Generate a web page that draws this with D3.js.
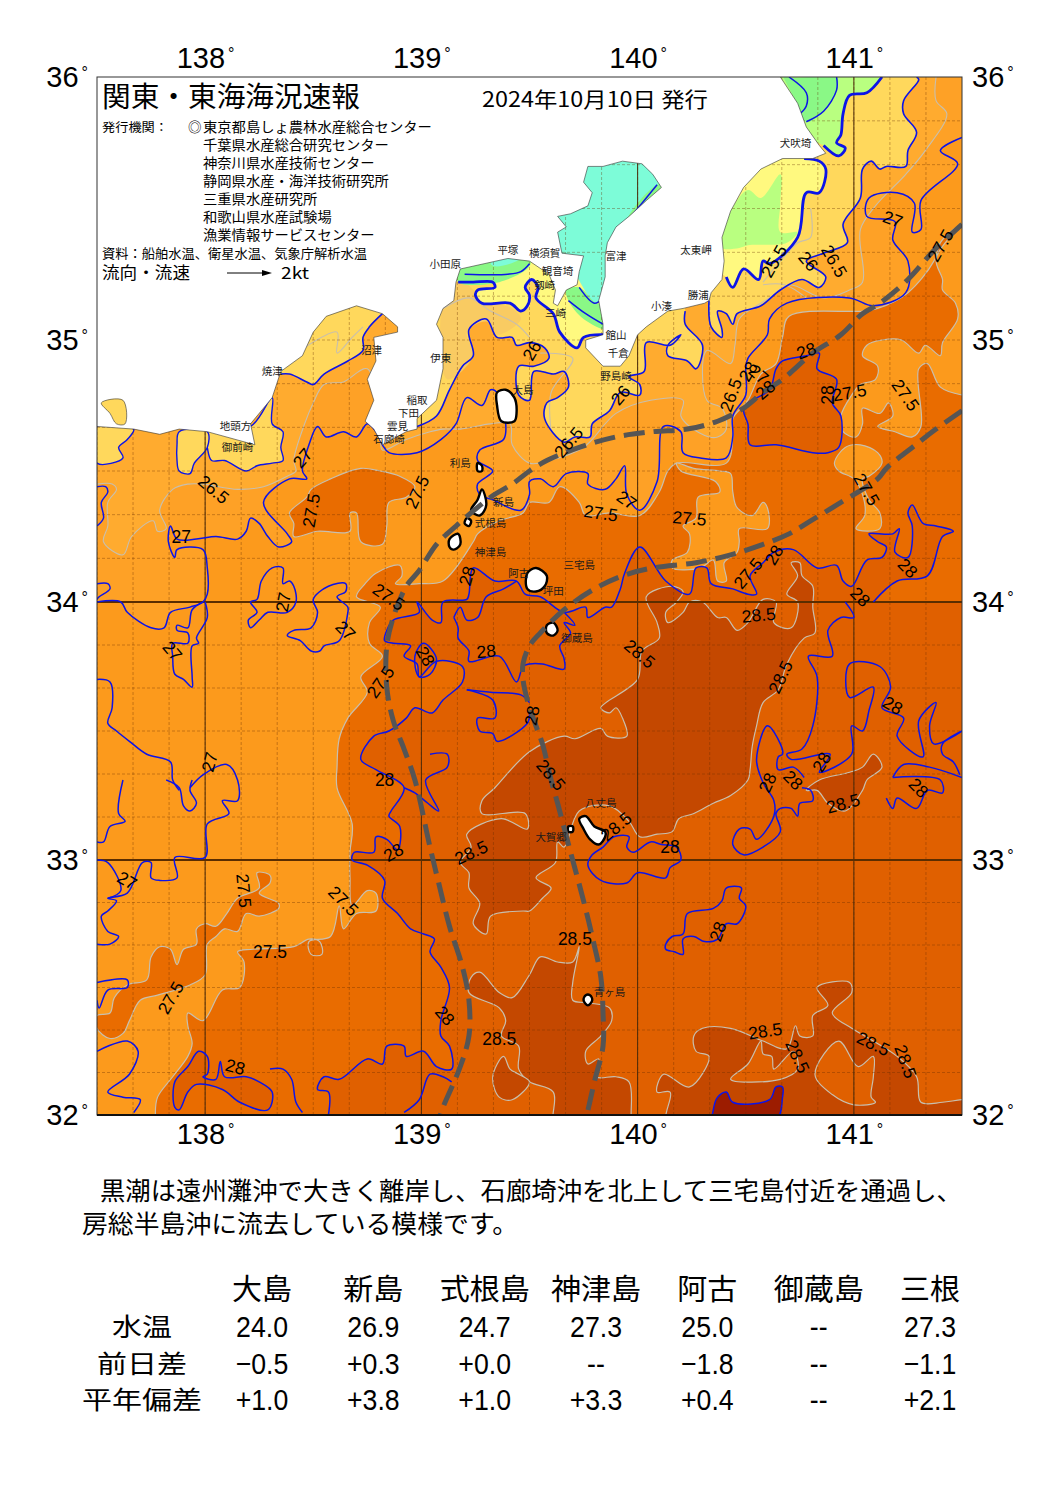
<!DOCTYPE html>
<html>
<head>
<meta charset="utf-8">
<script src="https://cdn.jsdelivr.net/npm/d3@7"></script>
<style>
  html, body { margin: 0; background: #fff; }
  text { font-family: "Noto Sans CJK JP", sans-serif; fill: #000; }
  .num, .num text { font-family: "Liberation Sans", Arial, sans-serif; }
</style>
</head>
<body>
<svg id="chart" width="1064" height="1505"></svg>
<script>
// All map features are [longitude, latitude].

// ---- blue integer isotherms and the filled bands that hang off them
var contour27North = [[137.50,34.00],[137.61,34.00],[137.64,33.96],[137.75,33.90],[137.81,33.90],[137.84,33.96],[137.93,33.98],[137.99,34.00],[138.01,34.03],[138.01,34.13],[137.99,34.20],[137.87,34.20],[137.86,34.17],[137.83,34.23],[137.84,34.29],[137.87,34.24],[137.96,34.24],[138.05,34.25],[138.15,34.24],[138.19,34.27],[138.21,34.32],[138.25,34.30],[138.29,34.25],[138.34,34.21],[138.40,34.23],[138.38,34.26],[138.27,34.38],[138.39,34.47],[138.47,34.47],[138.45,34.50],[138.48,34.60],[138.52,34.67],[138.56,34.63],[138.64,34.65],[138.70,34.63],[138.75,34.68],[138.79,34.65],[138.82,34.60],[138.85,34.57],[138.98,34.57],[139.09,34.62],[139.16,34.68],[139.21,34.78],[139.28,34.75],[139.32,34.81],[139.35,34.80],[139.39,34.68],[139.38,34.62],[139.27,34.58],[139.26,34.54],[139.33,34.50],[139.26,34.45],[139.27,34.41],[139.33,34.39],[139.46,34.35],[139.50,34.41],[139.50,34.46],[139.55,34.47],[139.61,34.44],[139.67,34.49],[139.77,34.49],[139.77,34.45],[139.85,34.43],[139.90,34.47],[139.94,34.52],[139.95,34.41],[140.01,34.35],[140.09,34.46],[140.12,34.67],[140.20,34.65],[140.21,34.57],[140.29,34.55],[140.41,34.55],[140.44,34.63],[140.44,34.71],[140.50,34.79],[140.50,34.89],[140.51,34.93],[140.60,35.02],[140.61,35.08],[140.69,35.14],[140.98,35.16],[141.09,35.13],[141.24,35.18],[141.25,35.30],[141.18,35.38],[141.19,35.45],[141.06,35.47],[141.07,35.54],[141.20,35.56],[141.28,35.52],[141.27,35.41],[141.31,35.42],[141.31,35.53],[141.48,35.67],[141.40,35.72],[141.50,35.77]];
var contour265 = [[137.50,34.45],[137.57,34.45],[137.59,34.43],[137.55,34.38],[137.55,34.29],[137.53,34.23],[137.62,34.18],[137.66,34.25],[137.76,34.31],[137.78,34.27],[137.82,34.28],[137.79,34.35],[137.85,34.43],[137.92,34.45],[137.99,34.45],[138.15,34.43],[138.27,34.44],[138.38,34.48],[138.42,34.50],[138.41,34.54],[138.46,34.68],[138.50,34.76],[138.55,34.83],[138.64,34.84],[138.75,34.89],[138.81,34.62],[138.82,34.58],[138.93,34.62],[139.04,34.65],[139.10,34.66],[139.18,34.66],[139.32,34.68],[139.41,34.68],[139.42,34.60],[139.50,34.53],[139.59,34.54],[139.75,34.59],[139.90,34.72],[140.06,34.77],[140.21,34.77],[140.20,34.71],[140.24,34.67],[140.33,34.63],[140.37,34.63],[140.41,34.66],[140.39,34.74],[140.32,34.77],[140.32,34.96],[140.43,34.91],[140.45,34.98],[140.47,35.08],[140.55,35.13],[140.61,35.16],[140.70,35.21],[140.86,35.16],[140.98,35.19],[141.04,35.22],[141.03,35.42],[141.10,35.51],[141.24,35.63],[141.33,35.72],[141.43,35.86],[141.38,35.91],[141.38,36.00]];
var contour26Sagami = [[138.98,34.67],[139.07,34.71],[139.13,34.81],[139.19,34.90],[139.24,34.94],[139.22,35.04],[139.30,35.08],[139.35,35.01],[139.42,35.01],[139.44,34.98],[139.50,34.99],[139.57,34.97],[139.59,34.93],[139.52,34.90],[139.45,34.90],[139.45,34.79],[139.50,34.77],[139.52,34.88],[139.61,34.87],[139.66,34.88],[139.68,34.82],[139.63,34.78],[139.58,34.76],[139.57,34.70],[139.66,34.61],[139.71,34.63],[139.78,34.63],[139.79,34.68],[139.87,34.73],[139.92,34.80],[140.01,34.79],[140.01,34.83],[139.96,34.86],[140.03,34.88],[140.04,34.99],[140.15,34.98],[140.20,35.02],[140.14,34.98],[140.14,34.94],[140.23,34.92],[140.27,34.89],[140.30,34.98],[140.22,35.06],[140.22,35.11]];
var contour26East = [[140.33,35.15],[140.34,35.05],[140.39,35.01],[140.39,35.04],[140.37,35.11],[140.41,35.10],[140.44,35.06],[140.46,35.10],[140.57,35.13],[140.66,35.19],[140.76,35.23],[140.84,35.20],[140.87,35.24],[140.78,35.30],[140.86,35.33],[140.97,35.37],[140.95,35.44],[141.03,35.54],[141.04,35.65],[141.08,35.68],[141.12,35.65],[141.15,35.66],[141.24,35.66],[141.25,35.72],[141.29,35.79],[141.23,35.86],[141.23,35.91],[141.30,35.99],[141.29,36.00]];
var contour26Suruga = [[138.82,35.10],[138.76,35.05],[138.73,35.01],[138.73,34.96],[138.66,34.92],[138.55,34.87],[138.50,34.83],[138.47,34.84],[138.39,34.87],[138.35,34.87]];
var contour25Kujukuri = [[140.41,35.24],[140.44,35.20],[140.49,35.27],[140.56,35.23],[140.58,35.30],[140.61,35.29],[140.74,35.39],[140.78,35.56],[140.84,35.56],[140.87,35.65],[140.84,35.68],[140.77,35.69]];
var contour25Kashima = [[141.13,36.00],[141.06,35.94],[140.98,35.93],[140.95,35.86],[140.94,35.78],[140.92,35.75],[140.96,35.73],[140.93,35.70],[140.86,35.74]];
var contour25Sagami = [[139.17,35.22],[139.24,35.22],[139.33,35.22],[139.34,35.20],[139.26,35.19],[139.25,35.17],[139.28,35.14],[139.41,35.14],[139.46,35.11],[139.49,35.13],[139.50,35.17],[139.48,35.20],[139.51,35.23],[139.54,35.20],[139.53,35.16],[139.61,35.10],[139.64,35.03],[139.72,34.97],[139.75,35.01],[139.85,35.02]];
var contour275Main = [[137.77,32.00],[137.78,32.07],[137.85,32.15],[137.92,32.23],[137.94,32.28],[137.92,32.35],[137.92,32.40],[137.99,32.37],[138.08,32.49],[138.16,32.50],[138.18,32.60],[138.15,32.64],[138.22,32.65],[138.41,32.66],[138.48,32.69],[138.53,32.68],[138.54,32.63],[138.49,32.63],[138.48,32.68],[138.58,32.70],[138.62,32.82],[138.64,32.73],[138.70,32.79],[138.79,32.80],[138.79,32.87],[138.75,32.88],[138.68,32.82],[138.67,32.93],[138.67,33.03],[138.68,33.14],[138.61,33.28],[138.61,33.36],[138.62,33.47],[138.66,33.55],[138.75,33.65],[138.72,33.71],[138.82,33.79],[138.76,33.84],[138.76,33.92],[138.81,33.98],[138.70,34.02],[138.74,34.07],[138.79,34.11],[138.90,34.14],[138.91,34.10],[138.88,34.07],[138.99,34.07],[139.10,34.08],[139.24,34.23],[139.26,34.26],[139.36,34.31],[139.47,34.34],[139.50,34.38],[139.59,34.38],[139.64,34.44],[139.73,34.38],[139.76,34.33],[139.87,34.34],[140.01,34.33],[140.10,34.42],[140.14,34.50],[140.18,34.53],[140.41,34.53],[140.44,34.63],[140.44,34.70],[140.51,34.77],[140.57,34.87],[140.64,34.91],[140.67,35.01],[140.70,35.09],[141.04,35.11],[141.11,35.12],[141.25,35.18],[141.37,35.30],[141.40,35.37],[141.46,35.42],[141.50,35.44]];
var contour275Finger = [[137.50,32.39],[137.56,32.40],[137.58,32.46],[137.64,32.51],[137.73,32.53],[137.75,32.62],[137.79,32.66],[137.84,32.65],[137.87,32.59],[137.90,32.65],[137.96,32.67],[137.96,32.73],[138.00,32.75],[138.05,32.74],[138.10,32.79],[138.15,32.85],[138.25,32.89],[138.24,32.95],[138.30,32.94],[138.30,32.91],[138.25,32.87],[138.34,32.83],[138.34,32.81],[138.25,32.78],[138.19,32.79],[138.15,32.72],[138.09,32.73],[138.05,32.70],[138.01,32.67],[138.00,32.55],[137.93,32.51],[137.78,32.47],[137.70,32.45],[137.65,32.37],[137.62,32.32],[137.56,32.30],[137.50,32.34]];
var contour275West = [[138.39,34.34],[138.47,34.40],[138.49,34.43],[138.58,34.47],[138.72,34.51],[138.81,34.50],[138.90,34.48],[138.97,34.44],[138.93,34.40],[138.85,34.38],[138.84,34.29],[138.82,34.22],[138.72,34.23],[138.70,34.34],[138.67,34.34],[138.67,34.27],[138.52,34.27],[138.41,34.25],[138.41,34.30]];
var pocket275Center = [[140.18,34.53],[140.26,34.51],[140.38,34.50],[140.43,34.49],[140.44,34.42],[140.46,34.36],[140.53,34.33],[140.58,34.38],[140.60,34.36],[140.60,34.28],[140.47,34.28],[140.47,34.23],[140.46,34.19],[140.40,34.15],[140.41,34.08],[140.37,34.08],[140.35,34.16],[140.29,34.13],[140.16,34.13],[140.16,34.16],[140.23,34.19],[140.24,34.26],[140.21,34.29],[140.27,34.32],[140.28,34.40],[140.38,34.42],[140.36,34.46],[140.20,34.50]];
var pocket275East = [[140.91,34.53],[140.96,34.59],[141.03,34.60],[141.11,34.57],[141.13,34.53],[141.07,34.48],[141.04,34.47],[141.07,34.39],[141.12,34.34],[141.12,34.28],[141.01,34.28],[141.05,34.33],[141.04,34.41],[141.00,34.47],[140.93,34.50]];
var pocket275NE = [[141.50,35.44],[141.38,35.31],[141.41,35.23],[141.41,35.19],[141.47,35.14],[141.48,35.08],[141.41,34.99],[141.40,34.94],[141.33,34.98],[141.30,34.95],[141.22,35.00],[141.13,35.00],[141.06,34.98],[141.04,34.94],[141.11,34.90],[141.10,34.85],[141.03,34.83],[140.99,34.79],[140.94,34.71],[140.95,34.65],[141.01,34.63],[141.04,34.68],[141.04,34.74],[141.12,34.72],[141.16,34.76],[141.18,34.71],[141.11,34.67],[141.19,34.65],[141.27,34.63],[141.31,34.67],[141.30,34.89],[141.34,34.91],[141.40,34.82],[141.50,34.79]];
var contour28Main = [[138.57,32.00],[138.57,32.09],[138.52,32.10],[138.55,32.15],[138.62,32.14],[138.75,32.22],[138.82,32.20],[138.84,32.27],[138.92,32.27],[138.93,32.23],[139.01,32.25],[139.07,32.19],[139.14,32.18],[139.13,32.27],[139.09,32.31],[139.09,32.37],[139.13,32.50],[139.09,32.58],[139.04,32.64],[139.06,32.69],[139.01,32.71],[138.95,32.73],[138.89,32.79],[138.82,32.85],[138.83,32.92],[138.75,32.98],[138.68,33.00],[138.69,33.03],[138.78,33.03],[138.79,33.09],[138.84,33.08],[138.89,33.04],[138.90,33.13],[138.85,33.17],[138.86,33.19],[138.92,33.28],[138.79,33.35],[138.72,33.39],[138.78,33.48],[138.85,33.50],[138.93,33.55],[138.97,33.59],[139.05,33.57],[139.10,33.62],[139.19,33.69],[139.19,33.75],[139.07,33.77],[138.99,33.71],[138.98,33.76],[138.92,33.79],[138.95,33.83],[138.87,33.84],[138.83,33.85],[138.84,33.89],[138.87,33.93],[138.99,33.96],[138.98,34.00],[139.05,33.93],[139.09,33.92],[139.10,34.00],[139.21,34.01],[139.22,34.03],[139.24,34.13],[139.34,34.08],[139.44,34.08],[139.48,34.03],[139.55,34.02],[139.66,33.96],[139.76,33.98],[139.77,33.94],[139.85,33.98],[139.88,33.98],[139.92,34.05],[139.94,34.11],[140.01,34.21],[140.13,34.08],[140.24,34.03],[140.27,34.13],[140.32,34.13],[140.34,34.07],[140.44,34.05],[140.51,34.03],[140.55,34.03],[140.52,34.10],[140.58,34.15],[140.63,34.19],[140.72,34.20],[140.83,34.13],[140.92,34.14],[140.95,34.08],[140.99,34.06],[141.06,34.16],[141.13,34.17],[141.15,34.21],[141.11,34.23],[141.07,34.26],[141.18,34.26],[141.21,34.28],[141.19,34.19],[141.25,34.17],[141.27,34.29],[141.25,34.34],[141.27,34.37],[141.32,34.30],[141.38,34.29],[141.46,34.27],[141.41,34.25],[141.34,34.10],[141.20,34.08],[141.09,34.00]];
var contour28North = [[140.51,34.76],[140.61,34.81],[140.64,34.89],[140.67,34.92],[140.78,34.94],[140.84,34.95],[140.83,34.89],[140.92,34.85],[140.90,34.76],[140.94,34.71],[140.93,34.59],[140.88,34.57],[140.81,34.57],[140.64,34.60],[140.52,34.60],[140.51,34.68],[140.49,34.73]];
var contour28SouthWest = [[137.86,32.13],[137.92,32.19],[137.97,32.25],[138.01,32.23],[138.01,32.16],[137.99,32.15],[138.05,32.14],[138.07,32.21],[138.09,32.15],[138.19,32.15],[138.25,32.13],[138.31,32.09],[138.29,32.02],[138.16,32.05],[138.08,32.10],[137.96,32.12],[137.92,32.09],[137.88,32.02],[137.86,32.03]];
var contour285Center = [[140.04,34.02],[140.16,34.06],[140.21,34.04],[140.18,34.00],[140.13,33.96],[140.14,33.92],[140.21,33.96],[140.24,34.00],[140.30,34.00],[140.37,33.94],[140.41,33.94],[140.46,33.89],[140.51,33.92],[140.58,34.01],[140.64,34.00],[140.63,33.92],[140.71,33.90],[140.74,34.00],[140.69,34.03],[140.74,34.10],[140.71,34.15],[140.75,34.15],[140.76,34.10],[140.81,34.06],[140.81,33.98],[140.82,33.88],[140.77,33.86],[140.69,33.76],[140.65,33.66],[140.58,33.61],[140.55,33.52],[140.53,33.44],[140.52,33.35],[140.51,33.31],[140.43,33.25],[140.35,33.22],[140.26,33.18],[140.19,33.16],[140.16,33.11],[140.09,33.10],[140.01,33.09],[139.96,33.15],[139.87,33.21],[139.73,33.19],[139.66,33.05],[139.63,33.07],[139.62,32.99],[139.53,32.93],[139.60,32.89],[139.56,32.85],[139.50,32.80],[139.47,32.80],[139.32,32.78],[139.30,32.71],[139.24,32.75],[139.27,32.83],[139.22,32.89],[139.22,32.95],[139.18,32.99],[139.23,33.05],[139.21,33.10],[139.37,33.16],[139.49,33.12],[139.48,33.18],[139.28,33.18],[139.28,33.23],[139.34,33.28],[139.50,33.42],[139.66,33.48],[139.71,33.47],[139.83,33.51],[139.86,33.48],[139.95,33.48],[139.93,33.55],[139.90,33.59],[139.87,33.57],[139.83,33.59],[140.00,33.70],[140.02,33.81],[140.10,33.86],[140.09,33.92]];
var contour285South = [[139.22,32.48],[139.23,32.54],[139.27,32.56],[139.36,32.48],[139.42,32.46],[139.50,32.55],[139.55,32.62],[139.63,32.60],[139.70,32.60],[139.73,32.66],[139.70,32.52],[139.70,32.45],[139.77,32.44],[139.87,32.42],[139.88,32.37],[139.83,32.31],[139.76,32.25],[139.77,32.20],[139.82,32.22],[139.81,32.15],[139.90,32.15],[139.96,32.13],[139.97,32.00],[139.97,31.95],[139.62,31.95],[139.61,32.09],[139.50,32.13],[139.45,32.18],[139.45,32.27],[139.37,32.31],[139.39,32.37],[139.36,32.42]];
var contour285Lobe = [[139.38,32.23],[139.33,32.15],[139.36,32.07],[139.42,32.06],[139.50,32.13],[139.45,32.16],[139.41,32.18]];
var contour285SouthEast = [[140.14,31.95],[140.15,32.09],[140.09,32.09],[140.12,32.16],[140.24,32.11],[140.33,32.23],[140.27,32.25],[140.26,32.31],[140.30,32.34],[140.43,32.34],[140.58,32.29],[140.69,32.26],[140.73,32.35],[140.75,32.31],[140.81,32.31],[140.81,32.39],[140.88,32.43],[140.83,32.50],[140.98,32.52],[140.99,32.48],[140.90,32.40],[140.99,32.34],[141.07,32.30],[141.20,32.23],[141.29,32.15],[141.31,32.05],[141.41,32.05],[141.50,32.06],[141.60,32.06],[141.60,31.95]];
var pocket285A = [[140.43,32.14],[140.51,32.20],[140.57,32.29],[140.58,32.24],[140.62,32.23],[140.63,32.18],[140.72,32.25],[140.74,32.18],[140.66,32.14]];
var pocket285B = [[140.82,32.16],[140.93,32.29],[141.02,32.19],[141.09,32.23],[141.09,32.15],[141.08,32.07],[141.10,32.05],[141.00,32.04],[140.90,32.08]];
var contour285Patch = [[140.78,33.27],[140.84,33.31],[140.98,33.34],[141.04,33.36],[141.09,33.41],[141.13,33.36],[141.06,33.31],[141.04,33.27],[140.96,33.19],[140.88,33.22],[140.83,33.27]];
var contour29 = [[140.35,32.02],[140.37,32.07],[140.41,32.09],[140.44,32.05],[140.61,32.06],[140.64,32.11],[140.67,32.11],[140.67,32.07],[140.64,31.98],[140.35,31.98]];

// ---- coastal shallow water bands
var goldOmaezaki = [[138.00,34.66],[138.21,34.67],[138.31,34.78],[138.31,34.68],[138.36,34.65],[138.35,34.59],[138.36,34.54],[138.31,34.53],[138.24,34.52],[138.19,34.50],[138.09,34.54],[138.03,34.54],[138.01,34.59]];
var goldWestA = [[137.50,34.67],[137.67,34.66],[137.64,34.62],[137.60,34.59],[137.62,34.55],[137.50,34.53]];
var goldWestB = [[137.88,34.65],[138.01,34.65],[138.01,34.59],[137.95,34.53],[137.93,34.49],[137.88,34.50],[137.87,34.54],[137.87,34.60]];
var goldHamana = [[137.52,34.76],[137.62,34.77],[137.63,34.68],[137.59,34.68],[137.56,34.72]];
var tanSagami = [[139.14,35.25],[139.30,35.15],[139.42,35.12],[139.46,35.08],[139.35,35.02],[139.30,35.07],[139.21,35.03],[139.24,34.94],[139.12,34.85],[139.09,35.10]];
var limeKujukuri = [[140.39,35.39],[140.43,35.49],[140.51,35.57],[140.57,35.54],[140.66,35.63],[140.66,35.52],[140.66,35.41],[140.74,35.41],[140.69,35.37],[140.51,35.36],[140.47,35.35],[140.39,35.35]];
var greenKashima = [[140.70,36.00],[140.92,36.00],[140.92,35.95],[140.86,35.87],[140.78,35.83],[140.73,35.91],[140.66,36.03]];
var greenSagami = [[139.17,35.26],[139.27,35.30],[139.50,35.31],[139.50,35.28],[139.36,35.22],[139.17,35.22]];
var aquaSagami = [[139.32,35.29],[139.35,35.31],[139.46,35.31],[139.41,35.29],[139.34,35.28]];
var aquaTokyoBay = [[139.60,35.50],[139.60,35.72],[140.15,35.72],[140.15,35.55],[139.90,35.35],[139.85,35.15],[139.79,35.14],[139.72,35.24],[139.68,35.30],[139.60,35.30]];
var greenUraga = [[139.67,35.19],[139.73,35.20],[139.81,35.14],[139.87,35.14],[139.87,35.04],[139.75,35.08],[139.68,35.15]];
var greenBayEast = [[139.95,35.45],[140.09,35.59],[140.14,35.59],[140.05,35.47],[139.98,35.41]];

// ---- blue lines without a fill of their own
var blueLines = [
  [[137.50,34.44],[137.54,34.44],[137.55,34.42],[137.52,34.38],[137.53,34.32],[137.50,34.29]],
  [[137.50,34.07],[137.55,34.07],[137.56,34.05],[137.51,34.02],[137.50,34.01]],
  [[137.50,33.70],[137.56,33.69],[137.57,33.59],[137.55,33.53],[137.59,33.50],[137.65,33.46],[137.73,33.41],[137.84,33.38],[137.85,33.31],[137.88,33.27]],
  [[137.93,33.28],[137.99,33.33],[138.10,33.37],[138.15,33.31],[138.15,33.23],[138.08,33.23],[138.11,33.18],[138.01,33.14],[138.00,33.01],[137.86,33.01],[137.87,32.93],[137.79,32.92],[137.75,32.93],[137.75,32.99],[137.71,32.99],[137.64,32.87],[137.55,32.85],[137.59,32.84],[137.55,32.80],[137.52,32.78],[137.55,32.72],[137.60,32.70],[137.56,32.67],[137.50,32.67]],
  [[137.82,33.31],[137.88,33.28],[137.90,33.21],[137.93,33.19],[137.96,33.22],[137.93,33.27],[137.94,33.31]],
  [[137.62,33.31],[137.60,33.18],[137.63,33.15],[137.56,33.13],[137.53,33.07],[137.50,33.07]],
  [[137.50,33.00],[137.55,32.99],[137.61,32.88],[137.55,32.85]],
  [[137.50,32.25],[137.64,32.29],[137.69,32.25],[137.65,32.16],[137.55,32.09],[137.62,32.07],[137.70,32.06],[137.67,32.01]],
  [[137.50,32.52],[137.64,32.53],[137.64,32.50],[137.55,32.49],[137.51,32.42],[137.50,32.45]],
  [[138.30,32.18],[138.36,32.18],[138.40,32.14],[138.42,32.05],[138.45,32.01]],
  [[138.92,32.01],[138.99,32.06],[139.04,32.16],[139.10,32.15],[139.14,32.13]],
  [[138.00,34.00],[138.01,33.94],[137.96,33.86],[137.97,33.84],[137.94,33.83],[137.94,33.71],[137.94,33.67],[137.90,33.70],[137.86,33.72],[137.85,33.79],[137.85,33.84],[137.92,33.84],[137.92,33.88],[137.87,33.89],[137.87,33.91],[137.92,33.90],[137.94,33.97],[137.99,34.00]],
  [[139.15,33.94],[139.17,33.90],[139.17,33.86],[139.22,33.81],[139.22,33.77],[139.36,33.79],[139.44,33.69],[139.47,33.75],[139.50,33.76],[139.56,33.76],[139.66,33.74],[139.66,33.78],[139.64,33.83],[139.69,33.88],[139.66,33.92],[139.71,33.91],[139.66,33.96]],
  [[139.15,33.94],[139.18,33.98],[139.21,33.93],[139.26,33.94],[139.30,34.02],[139.38,34.05],[139.44,34.08]],
  [[139.21,33.66],[139.33,33.62],[139.34,33.55],[139.26,33.55],[139.27,33.50],[139.33,33.49],[139.35,33.46],[139.49,33.53],[139.50,33.57]],
  [[139.21,33.66],[139.32,33.65],[139.46,33.64],[139.50,33.61]],
  [[139.04,33.41],[139.12,33.41],[139.12,33.36],[139.02,33.31],[139.08,33.19],[139.03,33.22],[138.97,33.26],[138.92,33.28]],
  [[140.60,33.27],[140.63,33.23],[140.63,33.17],[140.55,33.08],[140.52,33.12],[140.47,33.12],[140.44,33.06],[140.49,33.02],[140.58,33.05],[140.66,33.11],[140.64,33.18],[140.66,33.20],[140.71,33.20],[140.74,33.17],[140.75,33.22],[140.81,33.23],[140.80,33.27],[140.76,33.28]],
  [[140.60,33.27],[140.57,33.32],[140.55,33.39],[140.60,33.52],[140.66,33.45],[140.67,33.41],[140.65,33.40],[140.65,33.35],[140.72,33.36],[140.77,33.32]],
  [[140.96,34.00],[141.00,33.94],[140.94,33.94],[140.88,33.89],[140.90,33.79],[140.79,33.79],[140.83,33.71],[140.81,33.52],[140.76,33.43],[140.69,33.41],[140.71,33.39],[140.89,33.41],[140.84,33.34],[140.99,33.41],[140.99,33.52],[141.04,33.50],[141.07,33.58],[141.09,33.67],[140.98,33.63],[140.98,33.76],[141.12,33.75],[141.17,33.67],[141.13,33.59],[141.23,33.55],[141.20,33.48],[141.32,33.40],[141.30,33.54],[141.38,33.61],[141.35,33.52],[141.37,33.45],[141.50,33.50]],
  [[141.50,33.50],[141.41,33.45],[141.41,33.41],[141.46,33.38],[141.49,33.33]],
  [[141.18,33.32],[141.23,33.37],[141.35,33.36],[141.50,33.32]],
  [[141.15,33.24],[141.18,33.20],[141.20,33.24],[141.29,33.20],[141.34,33.27],[141.41,33.26],[141.40,33.31],[141.18,33.32]],
  [[139.20,35.25],[139.40,35.25],[139.46,35.26],[139.50,35.29]],
  [[139.68,35.15],[139.76,35.10],[139.84,35.06]],
  [[139.73,35.20],[139.80,35.14],[139.84,35.16]],
  [[139.95,35.45],[140.09,35.59]],
  [[140.70,36.00],[140.78,35.94],[140.78,35.89],[140.75,35.86]],
  [[140.92,36.00],[140.92,35.95],[140.86,35.87],[140.78,35.83]]
];
var blueLoops = [
  [[138.21,34.00],[138.24,34.01],[138.26,34.08],[138.31,34.13],[138.36,34.13],[138.36,34.07],[138.39,34.08],[138.41,34.06],[138.42,34.00],[138.38,33.96],[138.29,33.96],[138.25,33.93],[138.21,33.90],[138.20,33.93],[138.24,33.96]],
  [[138.50,34.01],[138.57,34.06],[138.65,34.07],[138.65,34.04],[138.61,34.02],[138.66,33.98],[138.66,33.96],[138.62,33.85],[138.55,33.83],[138.53,33.81],[138.49,33.81],[138.44,33.85],[138.38,33.87],[138.41,33.89],[138.49,33.90],[138.52,33.96]],
  [[139.01,33.84],[139.07,33.78],[139.04,33.72],[138.99,33.71],[138.97,33.79]],
  [[139.79,33.02],[139.77,32.98],[139.83,32.92],[139.95,32.91],[140.00,32.95],[140.13,32.93],[140.15,32.97],[140.20,33.00],[140.18,33.05],[140.11,33.06],[140.06,33.07],[139.98,33.03],[139.95,33.05],[139.96,33.09],[139.89,33.09],[139.84,33.05]],
  [[140.13,32.67],[140.16,32.70],[140.21,32.71],[140.23,32.79],[140.35,32.81],[140.39,32.84],[140.41,32.89],[140.48,32.89],[140.47,32.85],[140.50,32.82],[140.46,32.75],[140.41,32.75],[140.37,32.69],[140.31,32.68],[140.26,32.70],[140.21,32.69],[140.21,32.63],[140.17,32.64],[140.13,32.65]]
];

// ---- gray half-degree lines that do not bound a fill
var grayLines = [
  [[139.10,35.12],[139.22,35.16],[139.32,35.11],[139.44,35.06],[139.50,35.01]],
  [[138.35,34.91],[138.61,35.03],[138.61,34.95],[138.68,35.01],[138.73,35.05]],
  [[140.80,35.50],[140.80,35.39],[140.74,35.37],[140.68,35.32],[140.58,35.22]],
  [[140.58,35.21],[140.68,35.21],[140.78,35.16]],
  [[139.60,34.65],[139.60,34.80],[139.70,34.93],[139.55,34.95]]
];

// ---- Kuroshio axis
var kuroshioNorth = [[141.50,35.44],[141.37,35.34],[141.25,35.23],[141.12,35.14],[141.04,35.10],[140.94,35.02],[140.81,34.95],[140.67,34.85],[140.58,34.80],[140.49,34.74],[140.37,34.69],[140.23,34.66],[140.07,34.65],[139.90,34.63],[139.73,34.59],[139.58,34.54],[139.50,34.50],[139.42,34.45],[139.32,34.40],[139.16,34.29],[139.07,34.22],[138.99,34.12],[138.93,34.06],[138.87,33.94],[138.84,33.83],[138.84,33.67],[138.87,33.54],[138.92,33.43],[138.97,33.31],[139.04,33.05],[139.08,32.91],[139.13,32.74],[139.19,32.58],[139.22,32.45],[139.22,32.31],[139.18,32.19],[139.10,32.03],[139.08,31.98]];
var kuroshioSouth = [[141.50,34.73],[141.38,34.66],[141.27,34.59],[141.15,34.51],[141.11,34.47],[140.94,34.38],[140.80,34.31],[140.70,34.26],[140.58,34.22],[140.43,34.18],[140.27,34.15],[140.07,34.13],[139.93,34.10],[139.80,34.05],[139.66,33.97],[139.55,33.88],[139.50,33.83],[139.47,33.76],[139.47,33.70],[139.49,33.62],[139.53,33.52],[139.56,33.45],[139.60,33.31],[139.63,33.22],[139.69,33.03],[139.75,32.84],[139.79,32.70],[139.83,32.54],[139.84,32.40],[139.84,32.27],[139.80,32.13],[139.76,31.98]];

// ---- land and islands
var honshu = [[140.66,36.10],[140.66,36.00],[140.74,35.90],[140.78,35.81],[140.84,35.74],[140.87,35.71],[140.81,35.69],[140.67,35.69],[140.57,35.65],[140.49,35.58],[140.43,35.49],[140.39,35.39],[140.40,35.30],[140.39,35.23],[140.34,35.18],[140.33,35.15],[140.31,35.14],[140.21,35.12],[140.14,35.11],[140.09,35.08],[140.04,35.05],[140.00,35.02],[139.96,34.94],[139.92,34.90],[139.84,34.90],[139.76,34.97],[139.76,35.00],[139.84,35.02],[139.84,35.06],[139.82,35.15],[139.85,35.24],[139.85,35.32],[139.86,35.37],[139.90,35.43],[139.96,35.47],[140.04,35.53],[140.11,35.58],[140.07,35.63],[140.02,35.67],[139.93,35.68],[139.84,35.66],[139.77,35.66],[139.75,35.60],[139.79,35.56],[139.77,35.51],[139.69,35.48],[139.63,35.47],[139.67,35.43],[139.63,35.41],[139.65,35.33],[139.75,35.32],[139.73,35.26],[139.72,35.21],[139.67,35.19],[139.63,35.13],[139.61,35.14],[139.62,35.19],[139.59,35.25],[139.50,35.30],[139.40,35.31],[139.29,35.29],[139.18,35.27],[139.16,35.22],[139.15,35.15],[139.10,35.12],[139.07,35.06],[139.10,35.01],[139.10,34.89],[139.09,34.85],[139.07,34.77],[138.98,34.70],[138.98,34.66],[138.93,34.65],[138.82,34.60],[138.78,34.66],[138.74,34.69],[138.78,34.77],[138.75,34.85],[138.79,34.92],[138.78,35.01],[138.89,35.03],[138.89,35.05],[138.82,35.10],[138.70,35.13],[138.56,35.09],[138.50,35.03],[138.45,34.94],[138.35,34.88],[138.31,34.78],[138.21,34.68],[138.23,34.60],[138.01,34.65],[137.88,34.66],[137.79,34.64],[137.67,34.66],[137.50,34.67],[137.40,34.67],[137.40,36.10]];
var islands = [
  [[139.35,34.80],[139.39,34.81],[139.43,34.78],[139.44,34.72],[139.43,34.69],[139.37,34.69],[139.35,34.75]], // Oshima
  [[139.26,34.53],[139.28,34.52],[139.28,34.50],[139.26,34.50]], // Toshima
  [[139.28,34.43],[139.30,34.37],[139.27,34.33],[139.23,34.35],[139.26,34.39]], // Niijima
  [[139.21,34.32],[139.23,34.31],[139.22,34.29],[139.20,34.30]], // Shikinejima
  [[139.13,34.24],[139.17,34.26],[139.18,34.22],[139.15,34.20],[139.13,34.21]], // Kozushima
  [[139.49,34.11],[139.53,34.13],[139.58,34.10],[139.57,34.06],[139.53,34.04],[139.49,34.05]], // Miyakejima
  [[139.58,33.91],[139.61,33.92],[139.63,33.89],[139.61,33.87],[139.58,33.88]], // Mikurajima
  [[139.73,33.16],[139.76,33.17],[139.80,33.13],[139.85,33.11],[139.85,33.09],[139.82,33.06],[139.78,33.08],[139.75,33.12]], // Hachijojima
  [[139.68,33.13],[139.70,33.13],[139.70,33.11],[139.68,33.11]], // Kojima
  [[139.76,32.47],[139.78,32.47],[139.79,32.45],[139.77,32.43],[139.75,32.45]] // Aogashima
];

// ---- isotherm labels: text, lon, lat, rotation
var isothermLabels = [
  ['26',139.51,34.96,-60],['27',138.45,34.55,-50],['26.5',138.04,34.43,40],['27.5',138.98,34.42,-65],['27.5',138.49,34.35,-80],['27',137.89,34.25,0],
  ['27.5',139.83,34.34,8],['27',139.95,34.39,35],['27.5',140.24,34.32,5],['27.5',140.51,34.11,-50],['28',140.63,34.18,-60],['27.5',141.06,34.43,60],
  ['28',141.25,34.13,45],['28',141.03,34.02,45],['28.5',140.56,33.95,-5],['28.5',140.01,33.80,40],['28.5',140.66,33.71,-65],['28',141.18,33.60,30],
  ['28',140.85,33.38,-60],['28',140.60,33.30,-65],['28',140.72,33.31,45],['28.5',140.95,33.22,-15],['28',141.30,33.28,45],['28',139.21,34.10,-75],
  ['28',139.02,33.79,60],['28',139.30,33.81,-5],['27.5',138.85,34.02,35],['27.5',138.81,33.69,-55],['27',138.36,34.00,-80],['27',138.65,33.89,45],
  ['27',137.85,33.81,50],['27',138.02,33.38,-75],['28',138.83,33.31,0],['28',138.87,33.03,-30],['28.5',139.23,33.03,-25],['28',139.51,33.56,-80],
  ['28.5',139.60,33.33,50],['28.5',139.90,33.13,-40],['28',140.15,33.05,0],['28',140.37,32.72,-70],['27',137.64,32.92,30],['27.5',138.18,32.88,85],
  ['27.5',138.64,32.84,45],['27.5',138.30,32.64,0],['27.5',137.84,32.46,-60],['28',139.11,32.39,50],['28',138.14,32.19,15],['28.5',139.71,32.69,0],
  ['28.5',139.36,32.30,0],['28.5',140.59,32.33,-8],['28.5',140.74,32.23,65],['28.5',141.09,32.28,25],['28.5',141.24,32.21,70],['26.5',140.43,34.79,-70],
  ['27',140.56,34.87,40],['28',140.51,34.88,-60],['28',140.78,34.96,-20],['28',140.88,34.79,-90],['27.5',140.98,34.80,-10],['27.5',141.24,34.79,55],
  ['26',139.92,34.79,-50],['26.5',139.68,34.61,-50],['25.5',140.63,35.30,-60],['26',140.79,35.30,50],['26.5',140.91,35.30,60],['27',141.18,35.46,20],
  ['27.5',141.40,35.36,-60],['28',140.59,34.81,-40]
];

// ---- place names: text, lon, lat
var placeNames = [
  ['小田原',139.11,35.29],['平塚',139.40,35.34],['横須賀',139.57,35.33],['観音埼',139.63,35.26],['富津',139.90,35.32],['剱崎',139.57,35.21],['三崎',139.62,35.10],
  ['館山',139.90,35.02],['千倉',139.91,34.95],['野島崎',139.90,34.86],['太東岬',140.27,35.34],['犬吠埼',140.73,35.75],['勝浦',140.28,35.17],['小湊',140.11,35.13],
  ['大島',139.47,34.81],['沼津',138.77,34.96],['伊東',139.09,34.93],['焼津',138.31,34.88],['稲取',138.98,34.77],['下田',138.94,34.72],['雲見',138.89,34.67],['石廊崎',138.85,34.62],
  ['地頭方',138.14,34.67],['御前崎',138.15,34.59],['利島',139.18,34.53],['新島',139.38,34.38],['式根島',139.32,34.30],['神津島',139.32,34.19],['阿古',139.45,34.11],
  ['三宅島',139.73,34.14],['坪田',139.61,34.04],['御蔵島',139.72,33.86],['八丈島',139.83,33.22],['大賀郷',139.60,33.09],['青ヶ島',139.87,32.48]
];

// ---- text and table below the map
var agencies = ['東京都島しょ農林水産総合センター','千葉県水産総合研究センター','神奈川県水産技術センター','静岡県水産・海洋技術研究所','三重県水産研究所','和歌山県水産試験場','漁業情報サービスセンター'];
var commentLines = ['黒潮は遠州灘沖で大きく離岸し、石廊埼沖を北上して三宅島付近を通過し、','房総半島沖に流去している模様です。'];
var stations = ['大島','新島','式根島','神津島','阿古','御蔵島','三根'];
var rowLabels = ['水温','前日差','平年偏差'];
var waterTemp = ['24.0','26.9','24.7','27.3','25.0','--','27.3'];
var dayDiff = ['−0.5','+0.3','+0.0','--','−1.8','--','−1.1'];
var normalDiff = ['+1.0','+3.8','+1.0','+3.3','+0.4','--','+2.1'];
var lonTicks = [138, 139, 140, 141];
var latTicks = [32, 33, 34, 35, 36];

var svg = d3.select('#chart');
var x = d3.scaleLinear().domain([137.5, 141.5]).range([97, 962]);
var y = d3.scaleLinear().domain([32, 33, 34, 35, 36]).range([1115, 860, 602, 340, 77]);

var project = function (d) { return [x(d[0]), y(d[1])]; };
var smooth = d3.line().x(function (d) { return x(d[0]); }).y(function (d) { return y(d[1]); }).curve(d3.curveCatmullRom.alpha(0.5));
var smoothClosed = d3.line().x(function (d) { return x(d[0]); }).y(function (d) { return y(d[1]); }).curve(d3.curveCatmullRomClosed.alpha(0.5));
var straight = d3.line().x(function (d) { return x(d[0]); }).y(function (d) { return y(d[1]); });

// fill an open contour, closing it with straight runs outside the frame
function closedPath(line, closure) {
  return smooth(line) + closure.map(function (p) { return 'L' + project(p).join(','); }).join('') + 'Z';
}

svg.append('defs').append('clipPath').attr('id', 'plot')
  .append('rect').attr('x', 97).attr('y', 77).attr('width', 865).attr('height', 1038);

var map = svg.append('g').attr('clip-path', 'url(#plot)');
map.append('rect').attr('x', 97).attr('y', 77).attr('width', 865).attr('height', 1038).attr('fill', '#fc9a1c');

var GRAY = '#c8bfae', BLUE = '#0c14e8';
var C = {
  below27: '#fea126', below265: '#ffab2f', gold: '#ffd85c', tan: '#f9cb62', yellow: '#fff97f', lime: '#b9ff80', green: '#8af886', aqua: '#7dfcd8',
  base: '#fc9a1c', over275: '#e96c00', over28: '#e06000', over285: '#c44800', over29: '#9c1c00'
};

function fillOpen(line, closure, color) {
  map.append('path').attr('d', closedPath(line, closure)).attr('fill', color);
}
function fillLoop(loop, color, stroke, width) {
  map.append('path').attr('d', smoothClosed(loop)).attr('fill', color)
    .attr('stroke', stroke || 'none').attr('stroke-width', width || 1.2);
}
function strokeLine(line, color, width) {
  map.append('path').attr('d', smooth(line)).attr('fill', 'none').attr('stroke', color).attr('stroke-width', width);
}

// cool side, warmest band first
fillOpen(contour27North, [[141.6, 35.77], [141.6, 36.1], [137.4, 36.1], [137.4, 34.0]], C.below27);
fillOpen(contour265, [[141.38, 36.1], [137.4, 36.1], [137.4, 34.45]], C.below265);
fillOpen(contour26Sagami, [[140.22, 35.3], [139.0, 35.3]], C.gold);
fillOpen(contour26East, [[141.29, 36.1], [140.5, 36.1], [140.33, 35.3]], C.gold);
fillOpen(contour26Suruga, [[138.3, 35.2], [138.8, 35.2]], C.gold);
fillLoop(goldOmaezaki, C.gold, BLUE, 1.4);
fillLoop(goldWestA, C.gold, BLUE, 1.4);
fillLoop(goldWestB, C.gold, BLUE, 1.4);
fillLoop(tanSagami, C.tan);
fillOpen(contour25Sagami, [[139.85, 35.3], [139.17, 35.3]], C.yellow);
fillOpen(contour25Kujukuri, [[140.5, 35.8], [140.3, 35.3]], C.yellow);
fillOpen(contour25Kashima, [[140.7, 35.8], [140.6, 36.1], [141.13, 36.1]], C.lime);
fillLoop(limeKujukuri, C.lime);
fillLoop(greenKashima, C.green);
fillLoop(greenSagami, C.green);
fillLoop(aquaSagami, C.aqua);
map.append('path').attr('d', straight(aquaTokyoBay) + 'Z').attr('fill', C.aqua);
fillLoop(greenUraga, C.green);
fillLoop(greenBayEast, C.green);

// warm side
fillOpen(contour275Main, [[141.6, 35.44], [141.6, 31.9], [137.77, 31.9]], C.over275);
strokeLine(contour275Main, GRAY, 1.2);
fillLoop(contour275Finger, C.over275, GRAY);
fillLoop(contour275West, C.over275, GRAY);
fillLoop(pocket275Center, C.base, GRAY);
fillLoop(pocket275East, C.base, GRAY);
fillOpen(pocket275NE, [[141.6, 34.79], [141.6, 35.44]], C.base);
strokeLine(pocket275NE, GRAY, 1.2);

fillOpen(contour28Main, [[141.6, 34.0], [141.6, 31.9], [138.57, 31.9]], C.over28);
fillLoop(contour28North, C.over28);
fillLoop(contour28SouthWest, C.over28);
fillLoop(contour285Center, C.over285, GRAY);
fillLoop(contour285South, C.over285, GRAY);
fillLoop(contour285Lobe, C.over285, GRAY);
fillLoop(contour285SouthEast, C.over285, GRAY);
fillLoop(pocket285A, C.over28, GRAY);
fillLoop(pocket285B, C.over28, GRAY);
fillLoop(contour285Patch, C.over285, GRAY);
fillLoop(contour29, C.over29, BLUE, 1.5);

strokeLine(contour265, GRAY, 1.1);
grayLines.forEach(function (l) { strokeLine(l, GRAY, 1.1); });

// 10 minute graticule, heavier on whole degrees
var gridLons = d3.range(0, 24).map(function (i) { return 137.5 + i / 6; });
var gridLats = d3.range(0, 24).map(function (i) { return 32 + i / 6; });
map.selectAll('.gridx').data(gridLons).join('line')
  .attr('x1', x).attr('x2', x).attr('y1', 77).attr('y2', 1115)
  .attr('stroke', 'rgba(100,45,0,0.45)').attr('stroke-width', 0.8).attr('stroke-dasharray', '3,2');
map.selectAll('.gridy').data(gridLats).join('line')
  .attr('y1', y).attr('y2', y).attr('x1', 97).attr('x2', 962)
  .attr('stroke', 'rgba(100,45,0,0.45)').attr('stroke-width', 0.8).attr('stroke-dasharray', '3,2');
map.selectAll('.degx').data(lonTicks).join('line')
  .attr('x1', x).attr('x2', x).attr('y1', 77).attr('y2', 1115)
  .attr('stroke', '#4a2a08').attr('stroke-width', 1);
map.selectAll('.degy').data([33, 34]).join('line')
  .attr('y1', y).attr('y2', y).attr('x1', 97).attr('x2', 962)
  .attr('stroke', '#5a2d00').attr('stroke-width', 2);

// blue isotherms
strokeLine(contour27North, BLUE, 1.5);
strokeLine(contour26Sagami, BLUE, 1.6);
strokeLine(contour26East, BLUE, 1.6);
strokeLine(contour26Suruga, BLUE, 1.6);
strokeLine(contour28Main, BLUE, 1.5);
map.append('path').attr('d', smoothClosed(contour28North)).attr('fill', 'none').attr('stroke', BLUE).attr('stroke-width', 1.5);
map.append('path').attr('d', smoothClosed(contour28SouthWest)).attr('fill', 'none').attr('stroke', BLUE).attr('stroke-width', 1.5);
blueLines.forEach(function (l) { strokeLine(l, BLUE, 1.5); });
blueLoops.forEach(function (l) {
  map.append('path').attr('d', smoothClosed(l)).attr('fill', 'none').attr('stroke', BLUE).attr('stroke-width', 1.5);
});
strokeLine(contour25Sagami, BLUE, 2.8);
strokeLine(contour25Kujukuri, BLUE, 2.8);
strokeLine(contour25Kashima, BLUE, 2.8);

// land on top of the sea
map.append('path').attr('d', straight(honshu) + 'Z').attr('fill', '#fff').attr('stroke', '#333').attr('stroke-width', 0.6);
map.append('path').attr('d', smoothClosed(goldHamana)).attr('fill', C.gold).attr('stroke', '#333').attr('stroke-width', 0.6);

map.selectAll('.island').data(islands).join('path')
  .attr('d', function (d) { return smoothClosed(d); })
  .attr('fill', '#fff').attr('stroke', '#000').attr('stroke-width', 2.4);

[kuroshioNorth, kuroshioSouth].forEach(function (l) {
  map.append('path').attr('d', smooth(l)).attr('fill', 'none')
    .attr('stroke', '#555').attr('stroke-width', 5).attr('stroke-dasharray', '21,9');
});

// frame
svg.append('rect').attr('x', 97).attr('y', 77).attr('width', 865).attr('height', 1038)
  .attr('fill', 'none').attr('stroke', '#333').attr('stroke-width', 1);
svg.append('line').attr('x1', 97).attr('x2', 962).attr('y1', 1115).attr('y2', 1115).attr('stroke', '#111').attr('stroke-width', 2);

// labels on the map
var labels = svg.append('g').attr('class', 'num');
labels.selectAll('text').data(isothermLabels).join('text')
  .attr('transform', function (d) { return 'translate(' + x(d[1]) + ',' + y(d[2]) + ') rotate(' + d[3] + ')'; })
  .attr('text-anchor', 'middle').attr('dy', '0.36em')
  .style('font-size', '17.5px')
  .text(function (d) { return d[0]; });

svg.append('g').selectAll('text').data(placeNames).join('text')
  .attr('x', function (d) { return x(d[1]); }).attr('y', function (d) { return y(d[2]); })
  .attr('text-anchor', 'middle').attr('dy', '0.36em')
  .style('font-size', '10.5px').style('fill', '#1a1a1a')
  .text(function (d) { return d[0]; });

// axes, small raised degree sign after the number
function styleAxis(g) {
  g.select('.domain').remove();
  g.selectAll('text').each(function (d) {
    var t = d3.select(this).text(d).style('font-size', '29px').style('font-family', '"Liberation Sans", Arial, sans-serif');
    t.append('tspan').attr('dx', 3).attr('dy', -9).style('font-size', '16px').text('°');
  });
}
svg.append('g').attr('transform', 'translate(0,77)')
  .call(d3.axisTop(x).tickValues(lonTicks).tickSize(0).tickPadding(9)).call(styleAxis);
svg.append('g').attr('transform', 'translate(0,1115)')
  .call(d3.axisBottom(x).tickValues(lonTicks).tickSize(0).tickPadding(8)).call(styleAxis);
svg.append('g').attr('transform', 'translate(97,0)')
  .call(d3.axisLeft(y).tickValues(latTicks).tickSize(0).tickPadding(9)).call(styleAxis);
svg.append('g').attr('transform', 'translate(962,0)')
  .call(d3.axisRight(y).tickValues(latTicks).tickSize(0).tickPadding(10)).call(styleAxis);

// heading block
function put(str, px, py, size, width, anchor) {
  var t = svg.append('text').attr('x', px).attr('y', py).style('font-size', size + 'px').text(str);
  if (width) t.attr('textLength', width).attr('lengthAdjust', 'spacingAndGlyphs');
  if (anchor) t.attr('text-anchor', anchor);
  return t;
}
put('関東・東海海況速報', 102, 107, 28, 258);
put('2024年10月10日 発行', 482, 107, 21, 226);
put('発行機関：', 102, 132, 12.5, 66);
put('◎', 188, 132, 13.5);
agencies.forEach(function (a, i) {
  put(a, 203, 132 + i * 18, 13.5, a.length * 14.3);
});
put('資料：船舶水温、衛星水温、気象庁解析水温', 102, 258, 13, 265);
put('流向・流速', 102, 279, 16.5, 88);
put('2kt', 281, 279, 16, 28);
svg.append('line').attr('x1', 227).attr('x2', 266).attr('y1', 273).attr('y2', 273).attr('stroke', '#000').attr('stroke-width', 1);
svg.append('path').attr('d', 'M272,273L262,270L262,276Z').attr('fill', '#000');

// comment
put(commentLines[0], 100, 1200, 25, 862);
put(commentLines[1], 82, 1233, 25, 436);

// table
var col = d3.scalePoint().domain(stations).range([262, 930]);
stations.forEach(function (s) { put(s, col(s), 1300, 29, s.length * 30, 'middle'); });
rowLabels.forEach(function (l, i) { put(l, 142, 1336 + i * 36.5, 25, l.length * 30, 'middle'); });
[waterTemp, dayDiff, normalDiff].forEach(function (row, i) {
  row.forEach(function (v, j) {
    svg.append('text')
      .attr('transform', 'translate(' + col(stations[j]) + ',' + (1337 + i * 36.5) + ') scale(0.89,1)')
      .attr('text-anchor', 'middle')
      .style('font-size', '30px').style('font-family', '"Liberation Sans", Arial, sans-serif')
      .text(v);
  });
});
</script>
</body>
</html>
